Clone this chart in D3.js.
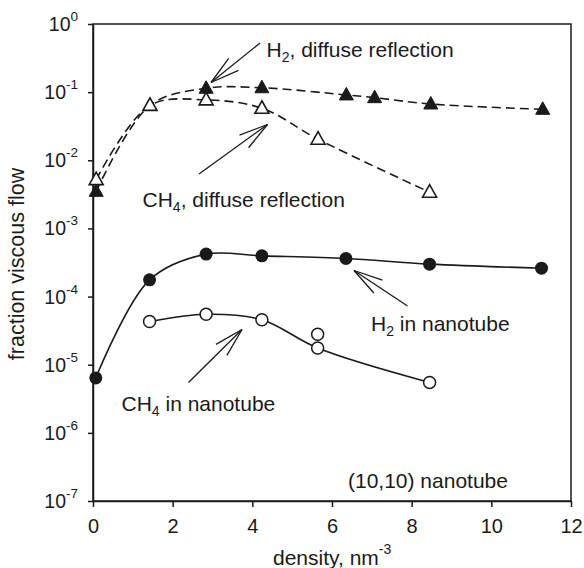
<!DOCTYPE html>
<html>
<head>
<meta charset="utf-8">
<script src="https://cdn.jsdelivr.net/npm/d3@7"></script>
<style>
  html, body { margin: 0; padding: 0; background: #fff; }
  svg { display: block; }
  text { font-family: "Liberation Sans", Arial, sans-serif; fill: #1a1a1a; }
</style>
</head>
<body>
<svg id="chart" width="584" height="568"></svg>
<script>
// ---------- data ----------
const xTicks = [0, 2, 4, 6, 8, 10, 12];
const yTickExponents = [0, -1, -2, -3, -4, -5, -6, -7];

// H2, diffuse reflection (filled triangles, dashed)
const h2DiffuseX = [0.08, 1.43, 2.84, 4.24, 6.36, 7.07, 8.48, 11.29];
const h2DiffuseY = [0.0035, 0.064, 0.114, 0.116, 0.091, 0.083, 0.067, 0.056];

// CH4, diffuse reflection (open triangles, dashed)
const ch4DiffuseX = [0.08, 1.43, 2.84, 4.24, 5.65, 8.45];
const ch4DiffuseY = [0.0052, 0.064, 0.077, 0.058, 0.0204, 0.0034];

// H2 in nanotube (filled circles, solid)
const h2TubeX = [0.07, 1.42, 2.84, 4.24, 6.35, 8.45, 11.26];
const h2TubeY = [6.4e-6, 1.76e-4, 4.2e-4, 3.96e-4, 3.62e-4, 2.99e-4, 2.61e-4];

// CH4 in nanotube (open circles, solid)
const ch4TubeX = [1.42, 2.84, 4.24, 5.64, 8.45];
const ch4TubeY = [4.3e-5, 5.5e-5, 4.57e-5, 1.76e-5, 5.5e-6];
// extra CH4 nanotube point without line
const ch4ExtraX = [5.64];
const ch4ExtraY = [2.8e-5];

// ---------- layout ----------
const svg = d3.select("#chart");
const L = 93, R = 571, T = 24, B = 501;
const ink = "#1a1a1a";

const x = d3.scaleLinear().domain([0, 12]).range([L, R]);
const y = d3.scaleLog().domain([1e-7, 1]).range([B, T]);

const zip = (xs, ys) => xs.map((v, i) => [v, ys[i]]);

// frame
svg.append("rect").attr("x", L).attr("y", T).attr("width", R - L).attr("height", B - T)
  .attr("fill", "none").attr("stroke", ink).attr("stroke-width", 1.5);

// axes
const xAxis = svg.append("g").attr("transform", `translate(0,${B})`)
  .call(d3.axisBottom(x).tickValues(xTicks).tickSize(6).tickSizeOuter(0).tickFormat(d3.format("d")));
xAxis.select(".domain").attr("stroke", ink).attr("stroke-width", 1.5);
xAxis.selectAll(".tick line").attr("stroke", ink).attr("stroke-width", 1.5);
xAxis.selectAll(".tick text").attr("font-size", 20).attr("dy", 0).attr("y", 32)
  .attr("font-family", "Liberation Sans, Arial, sans-serif").attr("fill", ink);

const yAxis = svg.append("g").attr("transform", `translate(${L},0)`)
  .call(d3.axisLeft(y).tickValues(yTickExponents.map(e => Math.pow(10, e))).tickSize(5).tickSizeOuter(0).tickFormat(""));
yAxis.select(".domain").attr("stroke", ink).attr("stroke-width", 1.5);
yAxis.selectAll(".tick line").attr("stroke", ink).attr("stroke-width", 1.5);

// y tick labels with superscripts
yTickExponents.forEach(e => {
  const t = svg.append("text").attr("x", 78).attr("y", y(Math.pow(10, e)) + 7)
    .attr("text-anchor", "end").attr("font-size", 19.5);
  t.append("tspan").text("10");
  t.append("tspan").attr("font-size", 13.5).attr("dy", -10).text(String(e));
});

// axis titles
const xt = svg.append("text").attr("x", 273).attr("y", 565).attr("font-size", 21);
xt.append("tspan").text("density, nm");
xt.append("tspan").attr("font-size", 14).attr("dy", -11).text("-3");

svg.append("text").attr("transform", "translate(24,264) rotate(-90)")
  .attr("text-anchor", "middle").attr("font-size", 21.5).text("fraction viscous flow");

// ---------- lines ----------
const line = d3.line().x(d => x(d[0])).y(d => y(d[1])).curve(d3.curveCatmullRom.alpha(0.5));

svg.append("path").datum(zip(h2DiffuseX, h2DiffuseY)).attr("d", line)
  .attr("fill", "none").attr("stroke", ink).attr("stroke-width", 1.6).attr("stroke-dasharray", "9,5");
svg.append("path").datum(zip(ch4DiffuseX, ch4DiffuseY)).attr("d", line)
  .attr("fill", "none").attr("stroke", ink).attr("stroke-width", 1.6).attr("stroke-dasharray", "9,5");
svg.append("path").datum(zip(h2TubeX, h2TubeY)).attr("d", line)
  .attr("fill", "none").attr("stroke", ink).attr("stroke-width", 1.6);
svg.append("path").datum(zip(ch4TubeX, ch4TubeY)).attr("d", line)
  .attr("fill", "none").attr("stroke", ink).attr("stroke-width", 1.6);

// ---------- markers ----------
const tri = (cx, cy) => `M${cx},${cy - 7.5}L${cx + 7},${cy + 5}L${cx - 7},${cy + 5}Z`;

svg.append("g").selectAll("path").data(zip(h2DiffuseX, h2DiffuseY)).join("path")
  .attr("d", d => tri(x(d[0]), y(d[1]))).attr("fill", ink).attr("stroke", ink).attr("stroke-width", 1);
svg.append("g").selectAll("path").data(zip(ch4DiffuseX, ch4DiffuseY)).join("path")
  .attr("d", d => tri(x(d[0]), y(d[1]))).attr("fill", "#fff").attr("stroke", ink).attr("stroke-width", 1.6);
svg.append("g").selectAll("circle").data(zip(h2TubeX, h2TubeY)).join("circle")
  .attr("cx", d => x(d[0])).attr("cy", d => y(d[1])).attr("r", 6.5).attr("fill", ink);
svg.append("g").selectAll("circle").data(zip(ch4TubeX, ch4TubeY).concat(zip(ch4ExtraX, ch4ExtraY))).join("circle")
  .attr("cx", d => x(d[0])).attr("cy", d => y(d[1])).attr("r", 6).attr("fill", "#fff")
  .attr("stroke", ink).attr("stroke-width", 1.5);

// ---------- annotations ----------
// arrows: tail -> tip in pixel layout
const arrows = [
  { tail: [260, 43], tip: [211, 82.5] },
  { tail: [199, 174], tip: [267.5, 124.5] },
  { tail: [407.5, 306], tip: [354, 270.5] },
  { tail: [188.5, 382.5], tip: [242, 329.5] }
];
const headLen = 30, headAng = 15 * Math.PI / 180;
arrows.forEach(a => {
  const g = svg.append("g").attr("stroke", ink).attr("stroke-width", 1.3).attr("fill", "none");
  g.append("line").attr("x1", a.tail[0]).attr("y1", a.tail[1]).attr("x2", a.tip[0]).attr("y2", a.tip[1]);
  const ang = Math.atan2(a.tail[1] - a.tip[1], a.tail[0] - a.tip[0]);
  [-1, 1].forEach(s => {
    g.append("line").attr("x1", a.tip[0]).attr("y1", a.tip[1])
      .attr("x2", a.tip[0] + headLen * Math.cos(ang + s * headAng))
      .attr("y2", a.tip[1] + headLen * Math.sin(ang + s * headAng));
  });
});

// labels with subscripts
const labels = [
  { x: 266.5, y: 57, parts: [["H"], ["2", "sub"], [", diffuse reflection"]] },
  { x: 142.5, y: 206.5, parts: [["CH"], ["4", "sub"], [", diffuse reflection"]] },
  { x: 371, y: 331, parts: [["H"], ["2", "sub"], [" in nanotube"]] },
  { x: 121.5, y: 410.5, parts: [["CH"], ["4", "sub"], [" in nanotube"]] },
  { x: 348, y: 488, parts: [["(10,10) nanotube"]] }
];
labels.forEach(l => {
  const t = svg.append("text").attr("x", l.x).attr("y", l.y).attr("font-size", 21)
    .attr("xml:space", "preserve");
  let shifted = 0;
  l.parts.forEach(p => {
    const ts = t.append("tspan").text(p[0]);
    if (p[1] === "sub") { ts.attr("font-size", 14).attr("dy", 5); shifted = 5; }
    else if (shifted) { ts.attr("dy", -shifted); shifted = 0; }
  });
});
</script>
</body>
</html>
